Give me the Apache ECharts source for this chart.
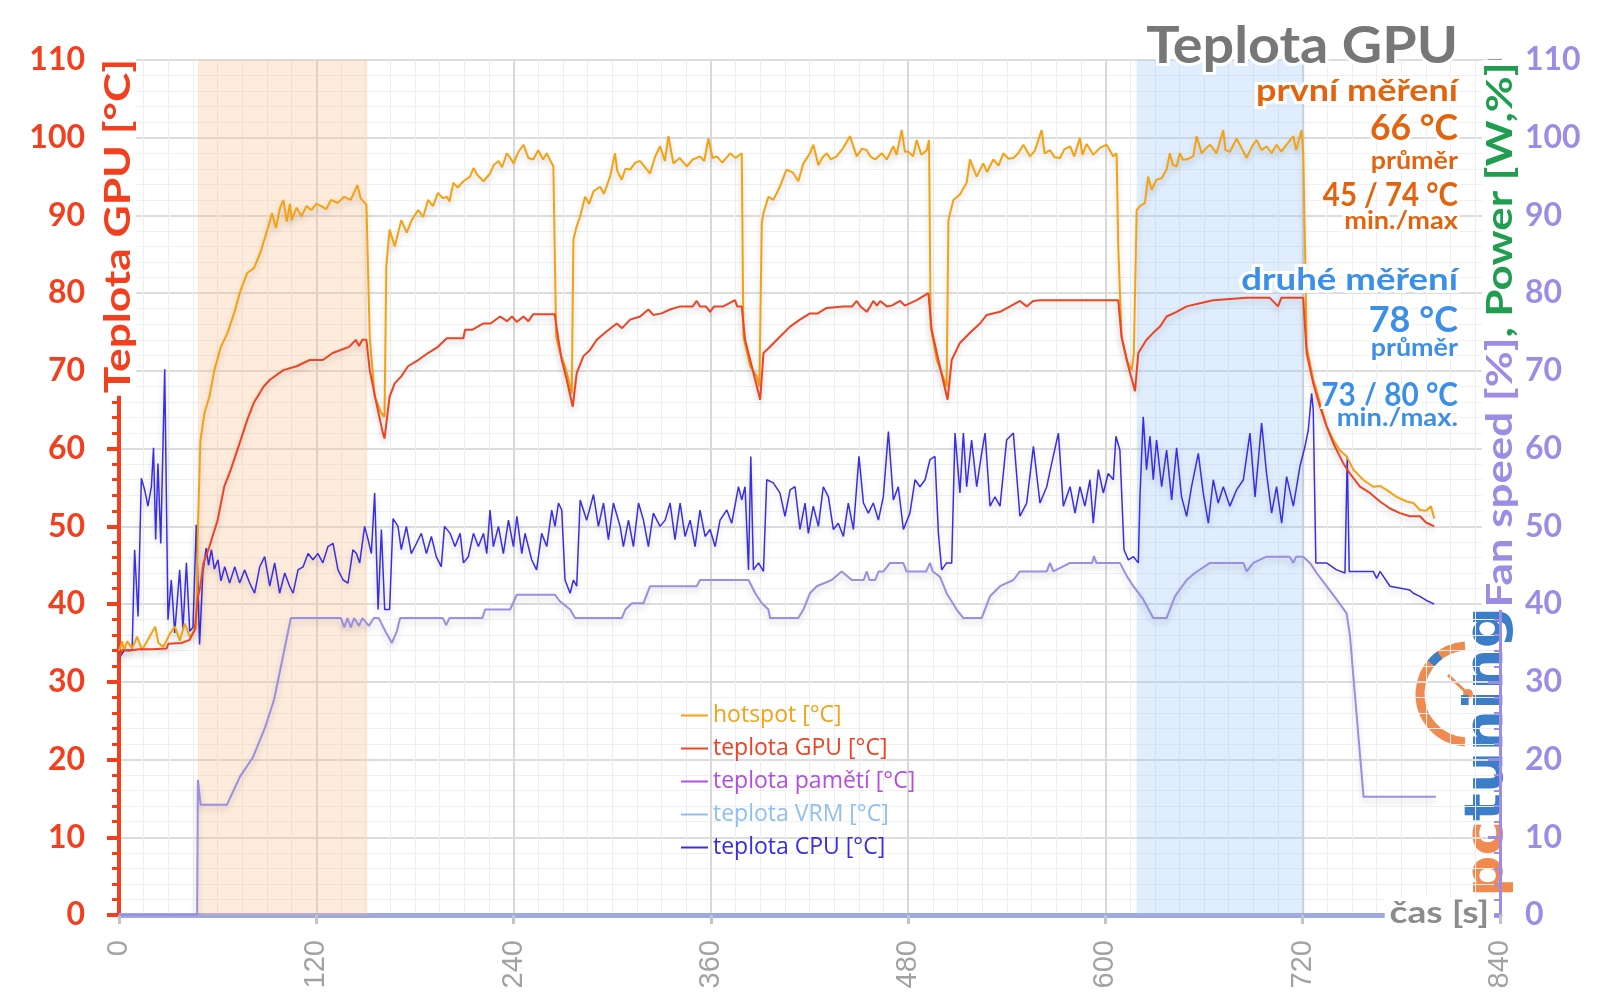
<!DOCTYPE html>
<html><head><meta charset="utf-8">
<script src="https://cdn.jsdelivr.net/npm/echarts@6/dist/echarts.min.js"></script>
<style>html,body{margin:0;padding:0;background:#fff}#c{width:1600px;height:1008px}</style>
</head><body><div id="c"></div>
<script>
// ---- data (time [s], value) ----
const xTicks = [0, 120, 240, 360, 480, 600, 720, 840];
const yTicks = [0, 10, 20, 30, 40, 50, 60, 70, 80, 90, 100, 110];
const seriesNames = ['hotspot [°C]', 'teplota GPU [°C]', 'teplota pamětí [°C]', 'teplota VRM [°C]', 'teplota CPU [°C]'];
const bands = [[48, 151], [619, 721]];

const hotspot = [[0,34],[2,35.2],[3,34.1],[5,35.2],[8,34.3],[11,35.8],[14,34.1],[17,35.2],[22,37.1],[24,35],[27,34.5],[31,36.2],[34,37.1],[37,35.3],[40,37.5],[43,35.8],[45,36.2],[47,37],[48,50],[49.5,61],[52,64.6],[55,66.7],[58,70.1],[62,73.1],[66,74.9],[70,77.4],[74,80.4],[78,82.6],[82,83.2],[86,85.2],[89,87.3],[92,89.4],[93,90.3],[95.5,88.4],[98,91],[100,92],[102,89.2],[104,91.5],[105,89.4],[108,91],[111,89.9],[114,91.2],[117,90.7],[120,91.5],[123,91.2],[126,90.8],[129,92],[133,91.6],[137,92.4],[141,92],[145,93.9],[147,92.2],[150.5,91.4],[152.5,74.4],[155.5,66.7],[159.5,64.6],[161.5,64.1],[162.6,83.4],[164.6,88.2],[167.7,86],[171.7,89.4],[175,87.8],[178,89.4],[182,90.7],[185,89.8],[188,92],[191,91.2],[194,92.9],[197,92.2],[199.4,92.4],[201,91.8],[203.4,94.2],[206,93.6],[209.5,94.4],[213.5,95],[215.6,96.1],[218,95.2],[221.7,94.4],[225.7,95.4],[228,96.5],[230.8,97],[233,96.2],[235.9,98],[238,97.4],[240,96.7],[243,98.2],[246,99.1],[249,97.4],[252,97.2],[255,98.4],[258,97.2],[260.2,98],[262,97.2],[264.2,96.3],[265.9,74.4],[268.3,72.3],[271.3,70.6],[273.4,68.9],[275.4,67.1],[276.4,86.9],[278.4,88.6],[280.5,89.9],[283.5,92.4],[286,91.5],[288.6,93.1],[292.6,93.7],[295,92.8],[298.7,95],[301.7,98],[303,95.8],[305.8,94.6],[308,96],[310.9,95.9],[314,96.8],[317,97],[320,96.2],[323,95.4],[326,97.5],[329.1,98.9],[332,97],[334.2,100.2],[337.2,96.7],[341,97.4],[345.3,96.3],[349,97.2],[353.4,97.6],[356,97],[358.5,99.9],[361,97.4],[363.6,97.6],[367,96.8],[371.7,98],[375,97.4],[378.8,98],[379.8,74.4],[383.9,70.6],[387.9,69.3],[389.5,68],[391,89],[392,90.3],[395,92.4],[398,92],[402,93.7],[406,95.9],[410,95.5],[413.2,94.4],[416.3,96.7],[420.3,98],[422.3,99.1],[425.4,96.5],[428,97.5],[430.5,98],[433,97.2],[436.5,97.6],[440.6,98.7],[444.6,100.2],[448.7,97.6],[452,98.6],[454.8,98.4],[457,97.6],[459.9,97.2],[464,98],[467,97.2],[471,98.9],[473,97.8],[476.1,101],[478,98.2],[480.1,98.2],[483,97.6],[485.2,99.7],[488,97.8],[491.3,98.4],[492.7,99.7],[493.7,75.7],[497.4,71.4],[500.4,69.7],[503.4,68],[504.5,89.4],[507.5,92],[511.5,92.7],[515.6,94.2],[517.6,97.2],[521.7,95],[525.7,96.7],[528,95.6],[531.8,97.2],[535,96.4],[537.9,98],[541,97.3],[544,97.4],[547,98],[550.1,99.1],[554.1,97.6],[557,98.3],[561.2,101],[563,98],[566.3,98.4],[569,97.5],[572.4,97.4],[575,98.5],[578.5,98.9],[581,97.6],[584.5,100],[586,97.8],[588.6,99.2],[592.6,97.8],[596.7,98.7],[600.7,99.1],[604.8,97.6],[606.8,98],[607.8,86],[609.8,74.4],[612.9,71.4],[616,70.1],[617.3,72.3],[619,90.7],[621,91.2],[624,91.6],[626,95],[628.1,93.3],[631.1,94.6],[634.2,94.8],[637.2,95.9],[639.2,98],[641,96.5],[643.3,96.3],[645.3,98],[647,97.2],[649.4,97.2],[653.4,97.6],[655.5,100.2],[658.5,98],[661,98.6],[663.6,99.1],[667.6,98],[671.7,101],[673,98.4],[675.7,98.2],[679.8,99.9],[683,98.6],[685.9,97.4],[689,98.8],[691.9,99.7],[695,98.4],[698,98.9],[701,98],[704.1,99.1],[707,98.2],[710.2,99.1],[714.3,100.2],[716,98.4],[719.3,101],[720.3,98],[721.4,86],[722.4,73.1],[726.4,68.9],[730.5,65.9],[734.5,62.9],[738.6,61.1],[742.6,59.8],[746.7,59],[750.8,57.3],[756.8,56],[762.9,55.1],[767,55.2],[771,54.7],[777.1,53.8],[783.2,53.2],[787.3,53],[791.3,52.1],[795,52],[798,52.6],[800,51]];

const gpuTemp = [[0,33],[2,34.1],[6,34],[12,34.2],[20,34.2],[29,34.3],[30,34.9],[38,35],[43,35.4],[46,36.7],[48,40.9],[49.5,42.3],[51.3,45.2],[55,47.4],[60,50.8],[64,55.1],[68,57.3],[74,61.1],[78,63.7],[82,65.9],[88,68],[92,68.9],[100,70.1],[108,70.6],[116,71.4],[124,71.4],[130,72.3],[140,73.1],[144,74],[146,73.2],[148,74],[150.5,74],[152.5,70.1],[156.5,65.9],[160.5,62],[161.5,61.3],[164.6,66.7],[167.7,68.4],[171.7,69.3],[175.8,70.6],[182,71.4],[188,72.3],[194,73.1],[199.4,74.2],[205,74.2],[209.5,74.2],[210.5,75.3],[215,75.3],[221.7,76.1],[226,76.1],[231.8,77],[236,76.4],[239,77],[242,76.3],[246,77],[249,76.4],[252,77.3],[265,77.3],[267.3,74],[269.3,71.4],[272.3,68.9],[276,65.4],[278.4,69.7],[282.5,71.9],[286.5,72.7],[290.6,74],[296.7,75.1],[302.8,76.1],[306,75.5],[310.9,76.6],[317,77],[322,77.9],[325,77.2],[330,77.4],[335.2,77.9],[341.3,78.3],[349,78.3],[351.4,79],[353.4,78.3],[357,78.3],[359.5,77.6],[362,78.3],[367.6,78.3],[374.7,79.1],[376,78.3],[378.8,78.3],[380.8,74],[384.9,70.6],[390,66.3],[392,72.3],[396,73.1],[402,74.4],[408.2,75.7],[414.2,76.6],[420.3,77.4],[425,77.4],[430.5,78.1],[440.6,78.3],[446,78.3],[448.7,79],[451,78.3],[454.8,77.6],[457,78.3],[458.8,79],[461,78.4],[463,79],[467,78.3],[470,78.4],[475.1,79],[478,78.4],[485.2,79.1],[492.3,80],[494.3,75.3],[498.4,71.4],[504,66.3],[506.5,71.4],[511.5,73.6],[517.6,74.9],[523.7,76.1],[527.8,77.2],[535.9,77.6],[542,78.3],[548,79],[552.1,78.3],[556,79],[560.2,79.1],[607.8,79.1],[609.8,74.4],[613.9,70.6],[618,67.4],[620,72.3],[625,74],[629.1,74.9],[633.2,75.7],[637.2,77],[643.3,77.6],[649.4,78.3],[657.5,78.7],[665.6,79.1],[686,79.4],[700,79.4],[705,78.3],[707,79.4],[720.3,79.4],[722.4,72.3],[726.4,68.4],[730.5,65.4],[734.5,62.9],[738.6,60.7],[744.7,58.1],[748.7,56.8],[754.8,55.1],[760.9,54.3],[767,53.2],[773.1,52.3],[779.2,51.7],[785.2,51.3],[791.3,51.3],[795,50.5],[800,50]];

const memTemp = [];
const vrmTemp = [];

const cpuTemp = [[0,33],[3,34],[5,34.1],[8,34.1],[9.5,47],[11.6,38.4],[13.6,56.2],[15.6,54.7],[17.6,52.6],[19.7,55.1],[21,60.1],[22.3,48.3],[23.7,58.1],[25.4,47.8],[27.8,70.2],[29.8,38],[31.8,43.1],[33.9,36.3],[36.9,44.4],[38.9,36.7],[41,45.3],[43,36.5],[45,37],[47,50.2],[49,34.8],[51,44],[53,47.2],[54.5,45],[56.2,47],[58,44.5],[60.2,45.7],[62,43],[64.3,44.8],[67.3,42.7],[70.4,44.8],[73.4,42.7],[76.4,44.4],[79.5,42.7],[82.5,41.4],[85.6,44.8],[88.6,46.1],[91.7,42.3],[94.7,45.3],[97.7,41.4],[100.8,44],[103.8,42.3],[105.9,41.4],[108.9,44.4],[112,44.8],[115,46.5],[118,45.7],[121,46.5],[124,45.3],[127.1,47.4],[130.2,47.8],[133.2,44.4],[136.3,43.1],[139.3,42.7],[142.3,47],[144.4,46.5],[146.4,45.3],[149.4,50],[151.5,48.3],[153.5,46.5],[155.5,54.3],[157.6,39.3],[159.6,49.6],[161.6,39.3],[164.6,39.3],[166.7,51],[169.7,50],[171.7,47],[174.8,50],[177.8,46.5],[180.9,47.8],[183.9,49.1],[187,46.5],[190,48.7],[193,46.1],[196,44.8],[198,50],[201.4,49.1],[204.4,47.4],[207.5,49.1],[209.5,45.3],[212.5,46.1],[215.6,49.1],[218.6,47.4],[221.7,49.1],[223.7,46.5],[225.7,52.1],[227.7,47.4],[230.8,50],[233.8,46.5],[236.9,50.8],[239.9,47.4],[242,51.3],[245,46.5],[247,49.1],[251,45.7],[254,44.4],[257.1,49.1],[260.2,47.4],[263.2,52.1],[265.2,50],[267.3,53],[269.3,52.1],[271.3,43.1],[274.4,41.4],[276.4,43.1],[278.4,42.3],[280.5,53.4],[284.5,50.8],[288.6,54.1],[291.6,50],[294.7,53],[297.7,48.3],[300.7,53],[304.8,50],[306.8,47.4],[309.9,50.8],[312.9,47.4],[316,53],[319,50.8],[322,47.4],[325,51.7],[329.1,50],[332.2,50.8],[335.2,53],[338.2,48.3],[341.3,53],[344.3,48.7],[347.4,50.8],[350.4,47.4],[353.4,52.1],[356.5,48.7],[359.5,49.6],[362.6,47.4],[365.6,50.8],[369.7,52.1],[372.7,50.4],[376.8,55.1],[378.8,53.4],[380.8,55.1],[382.9,44.4],[384.3,59],[385.9,44.4],[389,45.3],[392,44.2],[394,56],[398,55.6],[402,54.3],[405.1,51.3],[408.2,54.7],[411.2,55.1],[414.2,49.6],[417.3,53],[419.3,49.1],[422.3,52.6],[425.4,50],[428.4,55.1],[431.5,53.8],[434.5,49.6],[437.5,50.4],[440.6,48.7],[443.6,53],[446.7,49.6],[450.1,59],[452.8,53],[455.8,51.7],[458.8,53],[461.9,50.8],[464.9,53.8],[468,62.2],[471,53.4],[474,55.1],[477.1,49.6],[481.1,51.7],[484.2,56],[487.2,55.1],[490.3,56],[493.3,58.6],[496.3,59],[498.4,49.1],[500.4,44.4],[503.4,45.3],[506.5,45.3],[508.5,62],[511.5,54.3],[513.6,62],[515.6,55.1],[518.6,61.1],[521.7,55.1],[524.7,59.4],[526.8,62],[529.8,52.6],[532.8,53.8],[535.9,52.6],[539.9,61.1],[544,62],[548,51.3],[552.1,53],[556.2,60.3],[560.2,53],[564.3,55.1],[567.3,58.1],[571.4,62],[574.4,52.6],[578.5,55.1],[581.5,51.7],[584.5,55.1],[587.5,52.6],[590.6,56],[592.6,50.4],[595.7,57.3],[598.7,54.3],[601.7,56.8],[604.8,56],[606.4,61.6],[608.8,59.8],[611.3,47],[613.9,45.7],[617,46.1],[620,45.3],[621,53.8],[623,64.1],[625,57.3],[627.1,61.6],[629.1,56],[631.1,61.1],[634.2,55.1],[637.2,59.8],[640.3,53.4],[643.3,60.1],[646.3,53.8],[649.4,51.3],[652.4,55.1],[656.5,59.4],[659.5,54.3],[662.6,50.4],[665.6,56],[668.6,53],[671.7,55.1],[675.7,52.6],[679.8,54.7],[683.9,56],[687.9,62],[691,53.8],[695,63.3],[698,56.8],[701.1,51.7],[704.1,55.1],[707.2,50.4],[710.2,56.4],[714.3,52.6],[718.3,57.7],[721.4,60.3],[723.4,62.4],[725.4,67.1],[726.4,65],[728,45.3],[734.5,45.3],[740.6,44.4],[745.7,44],[747.1,59],[748.3,44.2],[762.9,44.2],[765,43.3],[767,44.2],[773.1,42.3],[785.2,41.8],[787.3,41.4],[791.3,41],[795,40.5],[800,40]];

const fanSpeed = [[0,0],[47.5,0],[48,17.4],[49.6,14.2],[65.7,14.2],[73.6,17.8],[81.5,20.3],[89,24.2],[94.3,27.7],[99.3,32.8],[104.5,38.2],[135,38.2],[137,37],[139,38.2],[141,37],[143,38.2],[146,37.2],[148,38.2],[152,37.2],[155,38.2],[158,38.2],[162,36.5],[166,35],[169,36.5],[171,38.2],[197,38.2],[199,37.3],[201,38.2],[221,38.2],[222.7,39.3],[237.9,39.3],[242,41.2],[265.2,41.2],[268,40.4],[274.4,39.3],[277.4,38.2],[305.8,38.2],[308,39.3],[312,40.1],[319,40.1],[323,42.3],[351.4,42.3],[353.4,43.1],[382.9,43.1],[387,41.4],[391,40.1],[395,39.3],[396,38.2],[413.2,38.2],[416.3,39.3],[420.3,41.4],[424.4,42.3],[433.5,43.1],[439.6,44.2],[445.7,43.1],[453,43.1],[454.8,44.2],[456.5,43.1],[460,43.1],[462,44.2],[465,44.2],[469,45.3],[477,45.3],[479,44.2],[491,44.2],[493.3,45.3],[495,44.2],[499.4,43.5],[503.4,41.4],[509.5,39.3],[513.6,38.2],[524.7,38.2],[529.8,41],[535.9,42.3],[544,43.1],[548,44.2],[564.3,44.2],[566.3,45.3],[568.3,44.2],[578.5,45.3],[592,45.3],[593,46.2],[594.5,45.3],[608.8,45.3],[613,43.6],[617,42.3],[623,40.6],[629.1,38.2],[637.2,38.2],[642.3,41],[649.4,43.1],[654.4,44],[663.6,45.3],[683.9,45.3],[685.9,44.2],[690,45.3],[698,46.1],[712,46.1],[714.3,45.3],[716,46.1],[720.3,46.1],[724.4,45.3],[728.5,44],[734.5,42.3],[740.6,40.6],[746.7,38.8],[748.7,36],[757,15.2],[801,15.2]];

// ---- styling ----
const FONT = 'Lato, "Open Sans", sans-serif';
const colors = ['#f5a211', '#ee4423', '#b44ee0', '#90c0ee', '#3a2ee2'];
const fanColor = '#9a8fe0';
const RED = '#f2401f', LAV = '#9d8ce6', GREEN = '#1e9e4e', ORANGE = '#e4640e', BLUE = '#3b8fe6';

const chart = echarts.init(document.getElementById('c'), null, {renderer: 'canvas'});
const shadow = {shadowColor: 'rgba(0,0,0,0.18)', shadowBlur: 6, shadowOffsetY: 4};

function lineSeries(name, data, color, width, extra) {
  return Object.assign({
    name, type: 'line', data, showSymbol: false, symbol: 'none', smooth: false,
    lineStyle: Object.assign({color, width}, shadow), itemStyle: {color},
    emphasis: {disabled: true}
  }, extra || {});
}

function label(x, y, text, size, color, sx) {
  return {
    type: 'text', x, y, z: 100, scaleX: sx || 1,
    style: {text, font: `bold ${size}px ${FONT}`, fill: color, align: 'right', verticalAlign: 'middle',
      stroke: '#fff', lineWidth: 6, strokeFirst: true}
  };
}

const option = {
  animation: false,
  backgroundColor: '#fff',
  textStyle: {fontFamily: FONT},
  grid: {left: 119, right: 100, top: 60, bottom: 93, containLabel: false},
  xAxis: {
    type: 'value', min: xTicks[0], max: xTicks[xTicks.length - 1], interval: xTicks[1] - xTicks[0],
    axisLine: {show: true, onZero: false, lineStyle: {color: '#a0a8e0', width: 5}},
    axisTick: {show: true, length: 9, lineStyle: {color: '#c4c4c4', width: 3}},
    axisLabel: {rotate: 90, margin: 25, color: '#a2a2a2', fontSize: 29, fontFamily: '"Liberation Sans", Arial, sans-serif'},
    splitLine: {show: true, lineStyle: {color: '#d9d9d9', width: 2}},
    minorTick: {show: false, splitNumber: 8},
    minorSplitLine: {show: true, lineStyle: {color: '#eeeeee', width: 1}}
  },
  yAxis: [{
    type: 'value', min: yTicks[0], max: yTicks[yTicks.length - 1], interval: yTicks[1] - yTicks[0],
    axisLine: {show: true, lineStyle: {color: RED, width: 4}},
    axisTick: {show: true, length: 12, lineStyle: {color: RED, width: 4}},
    minorTick: {show: true, splitNumber: 5, length: 7, lineStyle: {color: RED, width: 3}},
    axisLabel: {margin: 34, color: RED, fontSize: 32, fontWeight: 'bold', fontFamily: FONT},
    splitLine: {show: true, lineStyle: {color: '#dddddd', width: 2}},
    minorSplitLine: {show: true, lineStyle: {color: '#f0f0f0', width: 1}}
  }, {
    type: 'value', position: 'right', min: yTicks[0], max: yTicks[yTicks.length - 1], interval: yTicks[1] - yTicks[0],
    axisLine: {show: true, lineStyle: {color: LAV, width: 3}},
    axisTick: {show: true, inside: true, length: 12, lineStyle: {color: LAV, width: 3}},
    minorTick: {show: true, splitNumber: 5, length: 6, lineStyle: {color: LAV, width: 2}},
    axisLabel: {margin: 25, color: LAV, fontSize: 32, fontWeight: 'bold', fontFamily: FONT},
    splitLine: {show: false}
  }],
  legend: {
    orient: 'vertical', left: 676, top: 699, itemWidth: 27, itemHeight: 2, itemGap: 10, icon: 'rect',
    selectedMode: false,
    textStyle: {fontSize: 23, lineHeight: 22, fontFamily: '"Open Sans", Lato, sans-serif'},
    data: seriesNames.map((n, i) => ({name: n, textStyle: {color: colors[i]}}))
  },
  series: [
    lineSeries('fan', fanSpeed, fanColor, 2, {
      yAxisIndex: 1,
      markArea: {silent: true, data: [
        [{xAxis: bands[0][0], itemStyle: {color: 'rgba(250,190,140,0.30)'}}, {xAxis: bands[0][1]}],
        [{xAxis: bands[1][0], itemStyle: {color: 'rgba(150,195,245,0.30)'}}, {xAxis: bands[1][1]}]
      ]}
    }),
    lineSeries(seriesNames[4], cpuTemp, colors[4], 1.5),
    lineSeries(seriesNames[2], memTemp, colors[2], 2),
    lineSeries(seriesNames[3], vrmTemp, colors[3], 2),
    lineSeries(seriesNames[0], hotspot, colors[0], 2),
    lineSeries(seriesNames[1], gpuTemp, colors[1], 2)
  ],
  graphic: [
    label(1458, 46, 'Teplota GPU', 52, '#777777', 1.07),
    label(1458, 91, 'první měření', 30, ORANGE, 1.2),
    label(1458, 128, '66 °C', 37, ORANGE, 0.96),
    label(1458, 161, 'průměr', 24, ORANGE, 1.12),
    label(1458, 196, '45 / 74 °C', 32, ORANGE, 0.92),
    label(1458, 221, 'min./max', 24, ORANGE, 1.13),
    label(1458, 280, 'druhé měření', 31, BLUE, 1.18),
    label(1458, 320, '78 °C', 36, BLUE, 1.0),
    label(1458, 348, 'průměr', 24, BLUE, 1.12),
    label(1458, 396, '73 / 80 °C', 32, BLUE, 0.93),
    label(1458, 418, 'min./max.', 24, BLUE, 1.14),
    {
      type: 'text', x: 118, y: 226, z: 100, rotation: Math.PI / 2, scaleX: 1.23,
      style: {text: 'Teplota GPU [°C]', font: `bold 36px ${FONT}`, fill: RED, align: 'center', verticalAlign: 'middle',
        backgroundColor: '#fff', padding: [0, 2, 0, 2]}
    },
    {
      type: 'text', x: 1500, y: 335, z: 100, rotation: Math.PI / 2, scaleX: 1.22,
      style: {text: '{a|Fan speed [%]}{b|, Power [W,%]}', align: 'center', verticalAlign: 'middle',
        backgroundColor: '#fff', padding: [0, 2, 0, 2],
        rich: {a: {fill: LAV, font: `bold 36px ${FONT}`}, b: {fill: GREEN, font: `bold 36px ${FONT}`}}}
    },
    {
      type: 'text', x: 1494, y: 913, z: 100, scaleX: 1.2,
      style: {text: 'čas [s]', font: `bold 31px ${FONT}`, fill: '#8c8c8c', align: 'right', verticalAlign: 'middle',
        backgroundColor: '#fff', padding: [0, 4, 0, 4]}
    },
    // pctuning logo watermark
    {
      type: 'group', z: 90,
      children: [
        {type: 'arc', shape: {cx: 1468, cy: 694, r: 48, startAngle: Math.PI * 0.52, endAngle: Math.PI * 1.48, clockwise: true},
          style: {stroke: '#f08a4e', lineWidth: 9, fill: null}},
        {type: 'arc', shape: {cx: 1468, cy: 694, r: 48, startAngle: Math.PI * 1.22, endAngle: Math.PI * 1.3, clockwise: true},
          style: {stroke: '#3d7ec8', lineWidth: 9, fill: null}},
        {type: 'line', shape: {x1: 1448, y1: 675, x2: 1468, y2: 694}, style: {stroke: '#f08a4e', lineWidth: 3}},
        {type: 'circle', shape: {cx: 1468, cy: 694, r: 5}, style: {fill: '#f08a4e'}},
        {type: 'text', x: 1488, y: 752, rotation: Math.PI / 2, scaleX: 1.2,
          style: {text: '{p|pc}{t|tuning}', align: 'center', verticalAlign: 'middle',
            rich: {p: {fill: '#f08a4e', font: `bold 54px "DejaVu Sans Condensed", "DejaVu Sans", sans-serif`},
                   t: {fill: '#3d7ec8', font: `bold 54px "DejaVu Sans Condensed", "DejaVu Sans", sans-serif`}}}}
      ]
    }
  ]
};
chart.setOption(option);
</script>
</body></html>
